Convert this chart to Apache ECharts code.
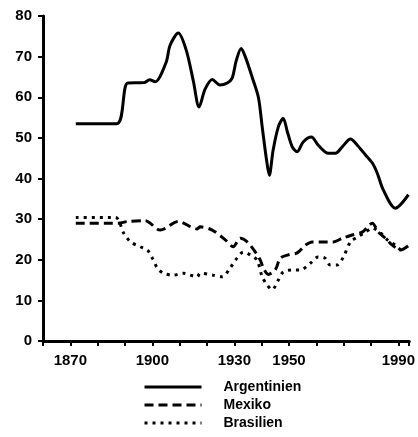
<!DOCTYPE html>
<html>
<head>
<meta charset="utf-8">
<script src="https://cdn.jsdelivr.net/npm/echarts@6/dist/echarts.min.js"></script>
<style>
  html, body { margin: 0; padding: 0; background: #fff; }
  #chart { width: 418px; height: 437px; }
</style>
</head>
<body>
<div id="chart"></div>
<script>
// values (share in %, by year)
const argYears = [1872, 1887, 1891, 1897, 1899, 1901, 1905, 1906.5, 1909.5, 1912.4, 1915, 1917.1, 1919.3, 1921.9, 1924.8, 1927.4, 1929.2, 1930.7, 1932.5, 1934, 1936.5, 1938.8, 1940.2, 1941.7, 1942.8, 1944.2, 1946.1, 1947.9, 1949.4, 1951.2, 1953, 1955.2, 1958.2, 1960.7, 1964.4, 1967, 1969.5, 1972.5, 1975, 1978, 1980.5, 1982.3, 1984.5, 1988.9, 1993.7]
const argValues = [53.5, 53.5, 63.5, 63.6, 64.3, 63.8, 68.5, 72.8, 75.8, 71.6, 64, 57.6, 62, 64.4, 63, 63.5, 64.7, 69, 72, 70, 65, 60, 52.7, 45, 40.8, 47, 52.7, 54.8, 51.5, 47.8, 46.6, 49, 50.2, 48.2, 46.2, 46.2, 47.8, 49.7, 48.2, 45.8, 43.8, 41.3, 37.2, 32.7, 36]

const mexYears = [1872, 1887.5, 1890.8, 1897.4, 1902.9, 1909.5, 1916.4, 1917.5, 1921.9, 1926.7, 1929.6, 1932.2, 1934.7, 1937.7, 1939.5, 1940.6, 1942.4, 1945, 1946.8, 1949.7, 1953, 1956, 1958.5, 1962.6, 1966.2, 1969.5, 1973.2, 1976.8, 1980.5, 1982.7, 1985.3, 1987.8, 1990.8, 1993.7]
const mexValues = [29, 29, 29.4, 29.6, 27.3, 29.4, 27.6, 28.1, 27.3, 24.9, 23.2, 25.3, 24.4, 21.9, 19.9, 18, 16.4, 17.5, 20.4, 21.2, 21.7, 23.6, 24.4, 24.4, 24.4, 25.3, 26.1, 26.8, 29, 26.8, 25.3, 23.6, 22.4, 23.4]

const braYears = [1872, 1886.5, 1889.5, 1892, 1895.6, 1898.2, 1900, 1901.8, 1904, 1907.7, 1911.3, 1916.4, 1917.5, 1922.3, 1925.6, 1928.5, 1931, 1933.3, 1935.8, 1938.3, 1940.2, 1942, 1943.8, 1946.1, 1947.9, 1951.2, 1954.1, 1957.9, 1960.7, 1963.2, 1965.1, 1967.6, 1969.9, 1972.5, 1975.1, 1978, 1980.5, 1983.5, 1986, 1988.9, 1991.5]
const braValues = [30.4, 30.4, 26.6, 24.4, 23.2, 22.4, 20.4, 18, 16.7, 16.2, 16.7, 15.8, 16.7, 16.2, 15.8, 18, 20.4, 21.9, 21.2, 19.9, 15.8, 13.8, 12.6, 15, 17, 17.5, 17.5, 19.2, 20.7, 20.4, 18.7, 18.7, 20.7, 24.4, 25.6, 26.8, 27.8, 26.6, 24.9, 23.6, 21.9]

const seriesNames = ['Argentinien', 'Mexiko', 'Brasilien']
const xTickLabels = [1870, 1900, 1930, 1950, 1990]
const yTicks = [0, 10, 20, 30, 40, 50, 60, 70, 80]

function pairs(xs, ys) {
  return xs.map((x, i) => [x, ys[i]])
}

const chart = echarts.init(document.getElementById('chart'), null, { renderer: 'canvas' })

const labelFont = {
  color: '#000',
  fontFamily: 'Liberation Sans',
  fontWeight: 'bold',
  fontSize: 15
}

const option = {
  animation: false,
  backgroundColor: '#fff',
  grid: {
    left: 43,
    right: 8,
    top: 16,
    bottom: 96
  },
  legend: {
    orient: 'vertical',
    left: 143,
    top: 380,
    padding: 0,
    itemWidth: 57,
    itemHeight: 14,
    itemGap: 4,
    data: seriesNames,
    // hide the round symbol, keep only the line sample
    itemStyle: { opacity: 0 },
    lineStyle: { width: 3 },
    textStyle: {
      color: '#000',
      fontFamily: 'Liberation Sans',
      fontWeight: 'bold',
      fontSize: 14,
      lineHeight: 14,
      padding: [0, 0, 0, 17]
    }
  },
  xAxis: {
    type: 'value',
    min: 1860,
    max: 1994,
    interval: 10,
    splitLine: { show: false },
    axisLine: { lineStyle: { color: '#000', width: 3 } },
    axisTick: { length: 5, lineStyle: { color: '#000', width: 2 } },
    axisLabel: Object.assign({
      margin: 12,
      formatter: v => (xTickLabels.indexOf(v) >= 0 ? String(v) : '')
    }, labelFont)
  },
  yAxis: {
    type: 'value',
    min: yTicks[0],
    max: yTicks[yTicks.length - 1],
    interval: 10,
    splitLine: { show: false },
    axisLine: { show: true, lineStyle: { color: '#000', width: 3 } },
    axisTick: { show: true, length: 5, lineStyle: { color: '#000', width: 2 } },
    axisLabel: Object.assign({ margin: 11 }, labelFont)
  },
  series: [
    {
      name: seriesNames[0],
      type: 'line',
      symbol: 'none',
      smooth: 0.3,
      data: pairs(argYears, argValues),
      lineStyle: { color: '#000', width: 3, type: 'solid' },
      itemStyle: { color: '#000' }
    },
    {
      name: seriesNames[1],
      type: 'line',
      symbol: 'none',
      smooth: 0.3,
      data: pairs(mexYears, mexValues),
      lineStyle: { color: '#000', width: 3, type: [9, 5] },
      itemStyle: { color: '#000' }
    },
    {
      name: seriesNames[2],
      type: 'line',
      symbol: 'none',
      smooth: 0.3,
      data: pairs(braYears, braValues),
      lineStyle: { color: '#000', width: 3, type: [3, 5] },
      itemStyle: { color: '#000' }
    }
  ]
}

chart.setOption(option)
</script>
</body>
</html>
